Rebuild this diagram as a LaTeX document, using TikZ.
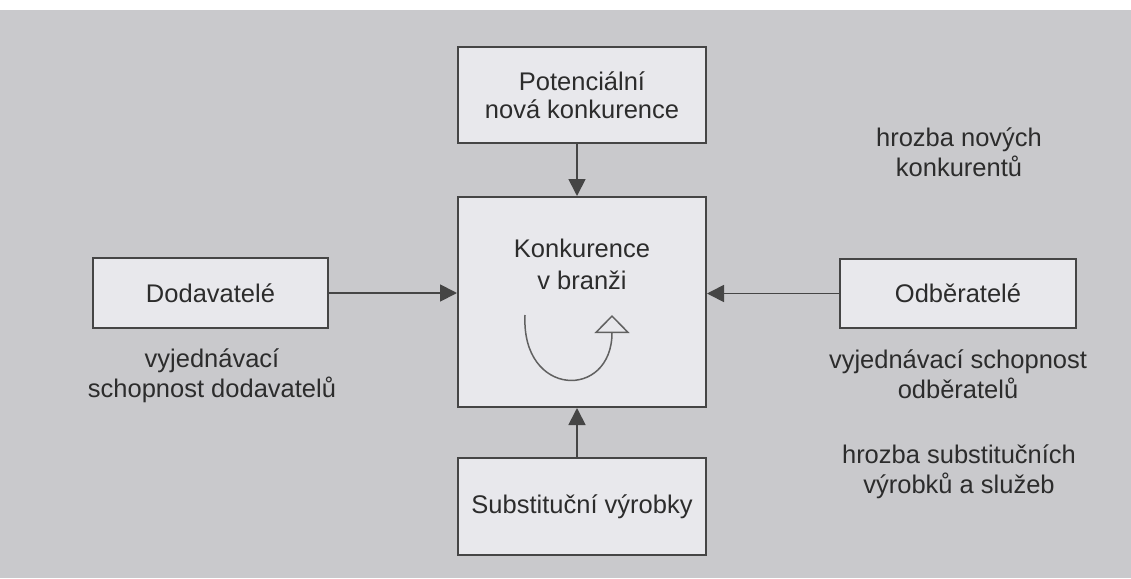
\documentclass[tikz,border=0pt]{standalone}
\usepackage{fontspec}
\setmainfont{Liberation Sans}
\usetikzlibrary{arrows.meta}
\definecolor{bg}{HTML}{C9C9CC}
\definecolor{boxfill}{HTML}{E8E8EC}
\definecolor{ink}{HTML}{2C2C2C}
\definecolor{edge}{HTML}{454545}
\begin{document}
\begin{tikzpicture}[x=1pt,y=-1pt,
  force/.style={draw=edge, line width=2pt, fill=boxfill, inner sep=0pt, text=ink,
    font=\fontsize{25.5}{28}\selectfont, align=center},
  lbl/.style={text=ink, inner sep=0pt, font=\fontsize{25.5}{30.5}\selectfont, align=center},
  conn/.style={draw=edge, line width=1.8pt, -{Triangle[length=17pt,width=17pt]}},
]
\useasboundingbox (0,0) rectangle (1131,578);
\fill[white] (0,0) rectangle (1131,578);
\fill[bg] (0,10) rectangle (1131,578);

\node[force, minimum width=248pt, minimum height=96pt] (top) at (582,95) {Potenciální\\nová konkurence};
\node[force, minimum width=248pt, minimum height=210pt] (mid) at (582,302) {};
\node[lbl, font=\fontsize{25.5}{32}\selectfont] (midtxt) at (582,264) {Konkurence\\v branži};
\node[force, minimum width=235pt, minimum height=70pt] (left) at (210.5,293) {Dodavatelé};
\node[force, minimum width=236pt, minimum height=69pt] (right) at (958,293.5) {Odběratelé};
\node[force, minimum width=248pt, minimum height=97pt] (bottom) at (582,506.5) {Substituční výrobky};

\node[lbl] (l1) at (959,152) {hrozba nových\\konkurentů};
\node[lbl] (l2) at (212,376) {vyjednávací\\schopnost dodavatelů};
\node[lbl] (l3) at (958,374) {vyjednávací schopnost\\odběratelů};
\node[lbl] (l4) at (959,472) {hrozba substitučních\\výrobků a služeb};

\draw[conn] ([xshift=-5pt]top.south) -- ([xshift=-5pt]mid.north);
\draw[conn] ([xshift=-5pt]bottom.north) -- ([xshift=-5pt]mid.south);
\draw[conn] (left.east) -- (left.east -| mid.west);
\draw[conn] (right.west) -- (right.west -| mid.east);

\coordinate (cs) at (525,315);
\coordinate (ce) at (612,315);
\draw[draw=edge!85, line width=1.5pt, -{Triangle[length=18pt,width=35pt,fill=boxfill,line width=1.5pt]}]
  (cs) .. controls (521,398) and (612,400) .. (ce);
\end{tikzpicture}
\end{document}
